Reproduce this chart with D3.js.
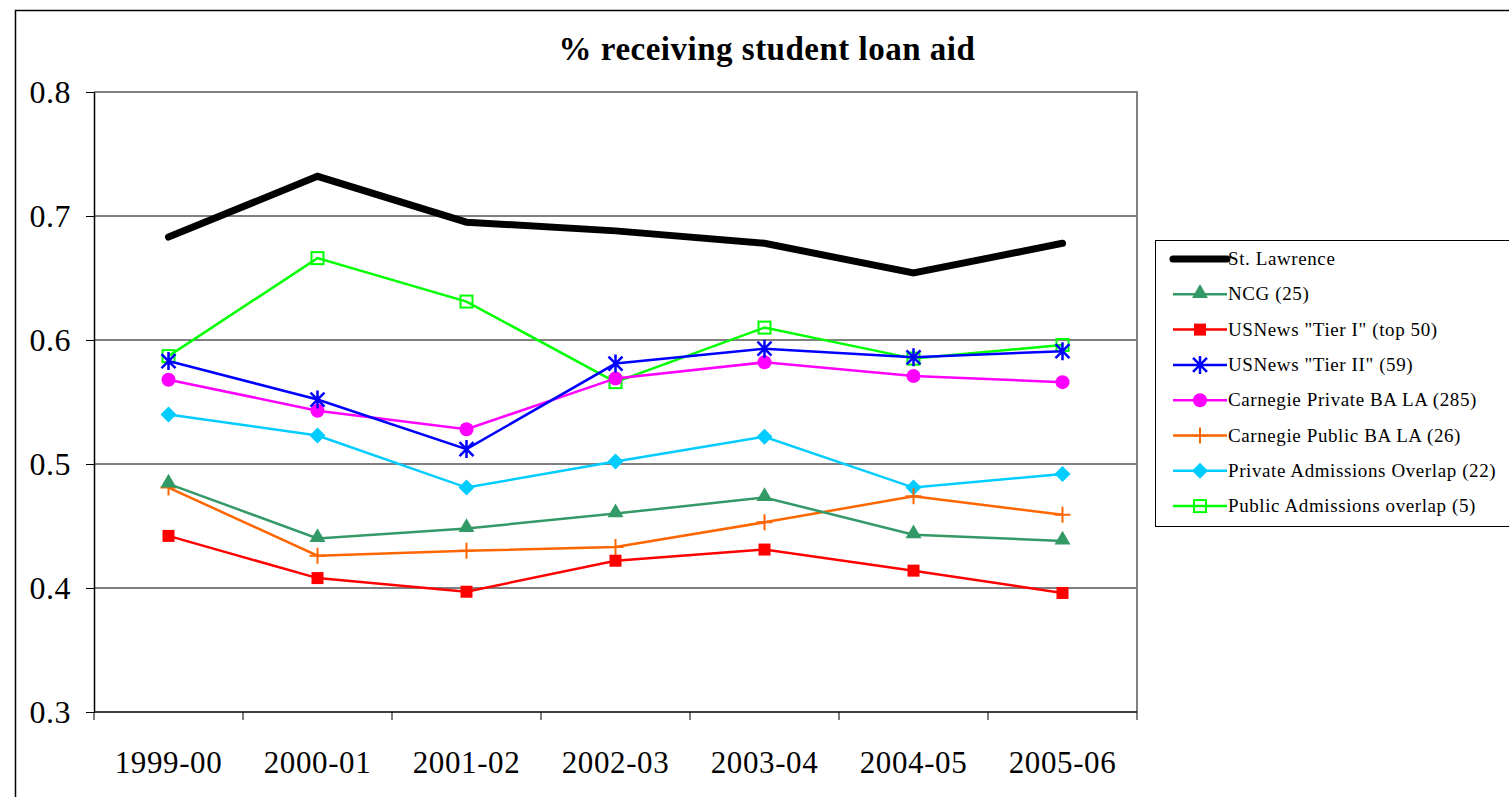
<!DOCTYPE html>
<html>
<head>
<meta charset="utf-8">
<script src="https://cdn.jsdelivr.net/npm/d3@7"></script>
<style>
  body { margin: 0; background: #fff; }
  svg text { font-family: "Liberation Serif", "DejaVu Serif", serif; fill: #000; }
</style>
</head>
<body>
<div id="chart"></div>
<script>
// categories on the x axis
var years = ["1999-00", "2000-01", "2001-02", "2002-03", "2003-04", "2004-05", "2005-06"];

// series values
var stLawrence   = [0.683, 0.732, 0.695, 0.688, 0.678, 0.654, 0.678];
var ncg          = [0.484, 0.440, 0.448, 0.460, 0.473, 0.443, 0.438];
var tierOne      = [0.442, 0.408, 0.397, 0.422, 0.431, 0.414, 0.396];
var tierTwo      = [0.583, 0.552, 0.512, 0.581, 0.593, 0.586, 0.591];
var carnPrivate  = [0.568, 0.543, 0.528, 0.569, 0.582, 0.571, 0.566];
var carnPublic   = [0.481, 0.426, 0.430, 0.433, 0.453, 0.474, 0.459];
var privOverlap  = [0.540, 0.523, 0.481, 0.502, 0.522, 0.481, 0.492];
var pubOverlap   = [0.587, 0.666, 0.631, 0.566, 0.610, 0.585, 0.596];

var yTicks = [0.3, 0.4, 0.5, 0.6, 0.7, 0.8];

// series list for drawing (name, values, colour, marker type, line width)
var series = [
  {name: "St. Lawrence", values: stLawrence, color: "#000000", marker: "none", width: 7},
  {name: "NCG (25)", values: ncg, color: "#339966", marker: "triangle", width: 2.5},
  {name: "USNews \"Tier I\" (top 50)", values: tierOne, color: "#ff0000", marker: "square", width: 2.5},
  {name: "USNews \"Tier II\" (59)", values: tierTwo, color: "#0000ff", marker: "star", width: 2.5},
  {name: "Carnegie Private BA LA (285)", values: carnPrivate, color: "#ff00ff", marker: "circle", width: 2.5},
  {name: "Carnegie Public BA LA (26)", values: carnPublic, color: "#ff6600", marker: "plus", width: 2.5},
  {name: "Private Admissions Overlap (22)", values: privOverlap, color: "#00ccff", marker: "diamond", width: 2.5},
  {name: "Public Admissions overlap (5)", values: pubOverlap, color: "#00ff00", marker: "openSquare", width: 2.5}
];

var W = 1509, H = 797;
var plot = {left: 94, top: 92, right: 1137, bottom: 712};

var svg = d3.select("#chart").append("svg")
    .attr("width", W)
    .attr("height", H);

// outer chart border
svg.append("rect")
    .attr("x", 15.5).attr("y", 10.5)
    .attr("width", W + 10).attr("height", H + 10)
    .attr("fill", "none").attr("stroke", "#000").attr("stroke-width", 1.5);

var x = d3.scaleBand().domain(years).range([plot.left, plot.right]);
var y = d3.scaleLinear().domain([0.3, 0.8]).range([plot.bottom, plot.top]);

// gridlines
svg.append("g").selectAll("line")
    .data(yTicks.slice(1, 5))
    .enter().append("line")
    .attr("x1", plot.left).attr("x2", plot.right)
    .attr("y1", function(d) { return y(d); })
    .attr("y2", function(d) { return y(d); })
    .attr("stroke", "#000").attr("stroke-width", 1);

// plot area top and right border
svg.append("path")
    .attr("d", "M" + plot.left + "," + plot.top + "H" + plot.right + "V" + plot.bottom)
    .attr("fill", "none").attr("stroke", "#808080").attr("stroke-width", 2);

// y axis
var yAxis = svg.append("g")
    .attr("transform", "translate(" + plot.left + ",0)")
    .call(d3.axisLeft(y).tickValues(yTicks).tickSize(8).tickSizeOuter(0).tickPadding(15)
      .tickFormat(d3.format(".1f")));
yAxis.select(".domain").attr("stroke", "#000").attr("stroke-width", 1.5);
yAxis.selectAll(".tick line").attr("stroke", "#000");
yAxis.selectAll("text").attr("font-size", 32).attr("fill", "#000")
    .style("font-family", "Liberation Serif, serif")
    .style("letter-spacing", "0.5px");

// x axis: ticks at category boundaries
var xAxis = svg.append("g")
    .attr("transform", "translate(0," + plot.bottom + ")");
xAxis.append("line")
    .attr("x1", plot.left).attr("x2", plot.right)
    .attr("stroke", "#000").attr("stroke-width", 1.5);
xAxis.selectAll(".bound")
    .data(years.concat(["end"]))
    .enter().append("line")
    .attr("class", "bound")
    .attr("x1", function(d, i) { return plot.left + i * x.step(); })
    .attr("x2", function(d, i) { return plot.left + i * x.step(); })
    .attr("y1", 0).attr("y2", 8)
    .attr("stroke", "#000");
xAxis.selectAll(".lbl")
    .data(years)
    .enter().append("text")
    .attr("class", "lbl")
    .attr("x", function(d) { return x(d) + x.bandwidth() / 2; })
    .attr("y", 61)
    .attr("text-anchor", "middle")
    .attr("font-size", 31)
    .style("letter-spacing", "0.6px")
    .text(function(d) { return d; });

// title
svg.append("text")
    .attr("x", 767).attr("y", 60)
    .attr("text-anchor", "middle")
    .attr("font-size", 33)
    .attr("font-weight", "bold")
    .style("letter-spacing", "0.5px")
    .text("% receiving student loan aid");

// function to draw a marker of given type at the origin of a group
function drawMarker(g, s) {
  var c = s.color;
  if (s.marker == "triangle") {
    g.append("path").attr("d", d3.symbol(d3.symbolTriangle, 110)()).attr("fill", c)
      .attr("transform", "translate(0,-1)");
  } else if (s.marker == "square") {
    g.append("rect").attr("x", -6).attr("y", -6).attr("width", 12).attr("height", 12).attr("fill", c);
  } else if (s.marker == "openSquare") {
    g.append("rect").attr("x", -6).attr("y", -6).attr("width", 12).attr("height", 12)
      .attr("fill", "none").attr("stroke", c).attr("stroke-width", 2);
  } else if (s.marker == "circle") {
    g.append("circle").attr("r", 7).attr("fill", c);
  } else if (s.marker == "diamond") {
    g.append("path").attr("d", "M0,-8L8,0L0,8L-8,0Z").attr("fill", c);
  } else if (s.marker == "plus") {
    g.append("path").attr("d", "M-8,0H8M0,-8V8").attr("stroke", c).attr("stroke-width", 2);
  } else if (s.marker == "star") {
    g.append("path").attr("d", "M-7,-7L7,7M-7,7L7,-7M0,-9V9")
      .attr("stroke", c).attr("stroke-width", 2.5);
  }
}

var line = d3.line()
    .x(function(d, i) { return x(years[i]) + x.bandwidth() / 2; })
    .y(function(d) { return y(d); });

// draw series in reverse so St. Lawrence ends on top like the original
series.slice().reverse().forEach(function(s) {
  var g = svg.append("g");
  g.append("path")
    .attr("d", line(s.values))
    .attr("fill", "none")
    .attr("stroke", s.color)
    .attr("stroke-width", s.width)
    .attr("stroke-linecap", s.marker == "none" ? "round" : "butt")
    .attr("stroke-linejoin", "miter");
  s.values.forEach(function(v, i) {
    var m = g.append("g")
      .attr("transform", "translate(" + (x(years[i]) + x.bandwidth() / 2) + "," + y(v) + ")");
    drawMarker(m, s);
  });
});

// legend
var legend = svg.append("g").attr("transform", "translate(1155,240)");
legend.append("rect")
    .attr("x", 0.5).attr("y", 0.5)
    .attr("width", 400).attr("height", 286)
    .attr("fill", "#fff").attr("stroke", "#000").attr("stroke-width", 1);

var rows = legend.selectAll(".row")
    .data(series)
    .enter().append("g")
    .attr("class", "row")
    .attr("transform", function(d, i) { return "translate(0," + (19 + i * 35.3) + ")"; });

rows.append("line")
    .attr("x1", 18).attr("x2", 72)
    .attr("stroke", function(d) { return d.color; })
    .attr("stroke-width", function(d) { return d.width; })
    .attr("stroke-linecap", function(d) { return d.marker == "none" ? "round" : "butt"; });

rows.each(function(d) {
  var m = d3.select(this).append("g").attr("transform", "translate(45,0)");
  drawMarker(m, d);
});

rows.append("text")
    .attr("x", 73).attr("y", 6)
    .attr("font-size", 19)
    .style("letter-spacing", "0.6px")
    .text(function(d) { return d.name; });
</script>
</body>
</html>
